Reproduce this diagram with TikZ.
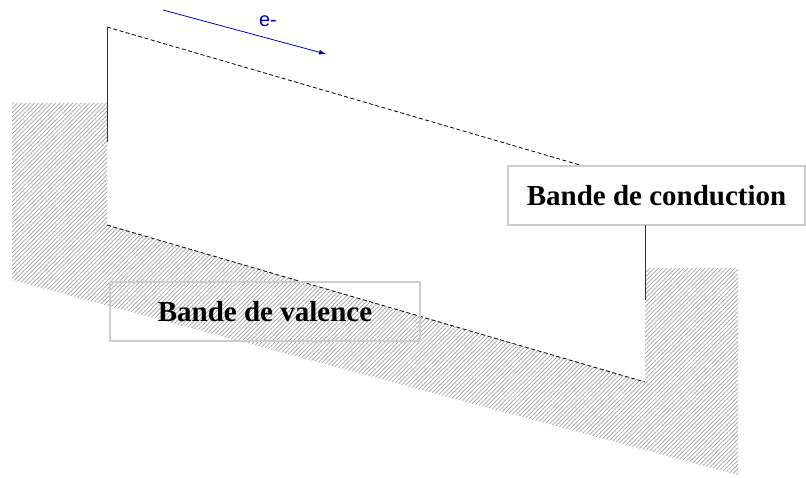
\documentclass[tikz,border=0pt]{standalone}
\usepackage{fontspec}
\setmainfont{Liberation Serif}
\newfontfamily\arialfont{Liberation Sans}
\usetikzlibrary{patterns.meta,arrows.meta}
\begin{document}
\begin{tikzpicture}[x=1pt,y=-1pt,
  hatched/.style={pattern={Lines[angle=45,distance=3pt,line width=0.7pt]},pattern color=gray!75},
  bandbox/.style={draw=gray!40,line width=1.5pt,inner sep=0pt,minimum height=59pt,
    font=\fontsize{29}{32}\selectfont\bfseries},
  edge/.style={gray!40!black,line width=1pt},
  level/.style={dash pattern=on 4pt off 2.5pt,line width=0.8pt}]
  \useasboundingbox (0,0) rectangle (806,477);
  \coordinate (ctop) at (107,27);
  \coordinate (cend) at (645,184);
  \coordinate (vtop) at (107,225);
  \coordinate (vend) at (645,382);
  \fill[hatched] (12,103) -- (107,103) -- (vtop) -- (vend) -- (645,268) -- (738,268)
     -- (738,475) -- (12,280) -- cycle;
  \draw[level] (ctop) -- (cend);
  \draw[level] (vtop) -- (vend);
  \coordinate (lfoot) at (107,142);
  \draw[edge] (ctop) -- (lfoot);
  \node[bandbox,fill=white,minimum width=297pt] (cond) at (656.5,195.5) {Bande de conduction};
  \coordinate (rtop) at (645,225);
  \coordinate (rfoot) at (645,300);
  \draw[edge] (rtop) -- (rfoot);
  \node[bandbox,minimum width=310pt] (val) at (265,311.5) {Bande de valence};
  \coordinate (e1) at (163,10);
  \coordinate (e2) at (326,54);
  \draw[blue!75!black,line width=0.8pt,-{Latex[length=7pt,width=5pt]}] (e1) -- (e2);
  \node[blue!75!black,font=\arialfont\fontsize{20}{22}\selectfont] (elec) at (268,21) {e-};
\end{tikzpicture}
\end{document}
